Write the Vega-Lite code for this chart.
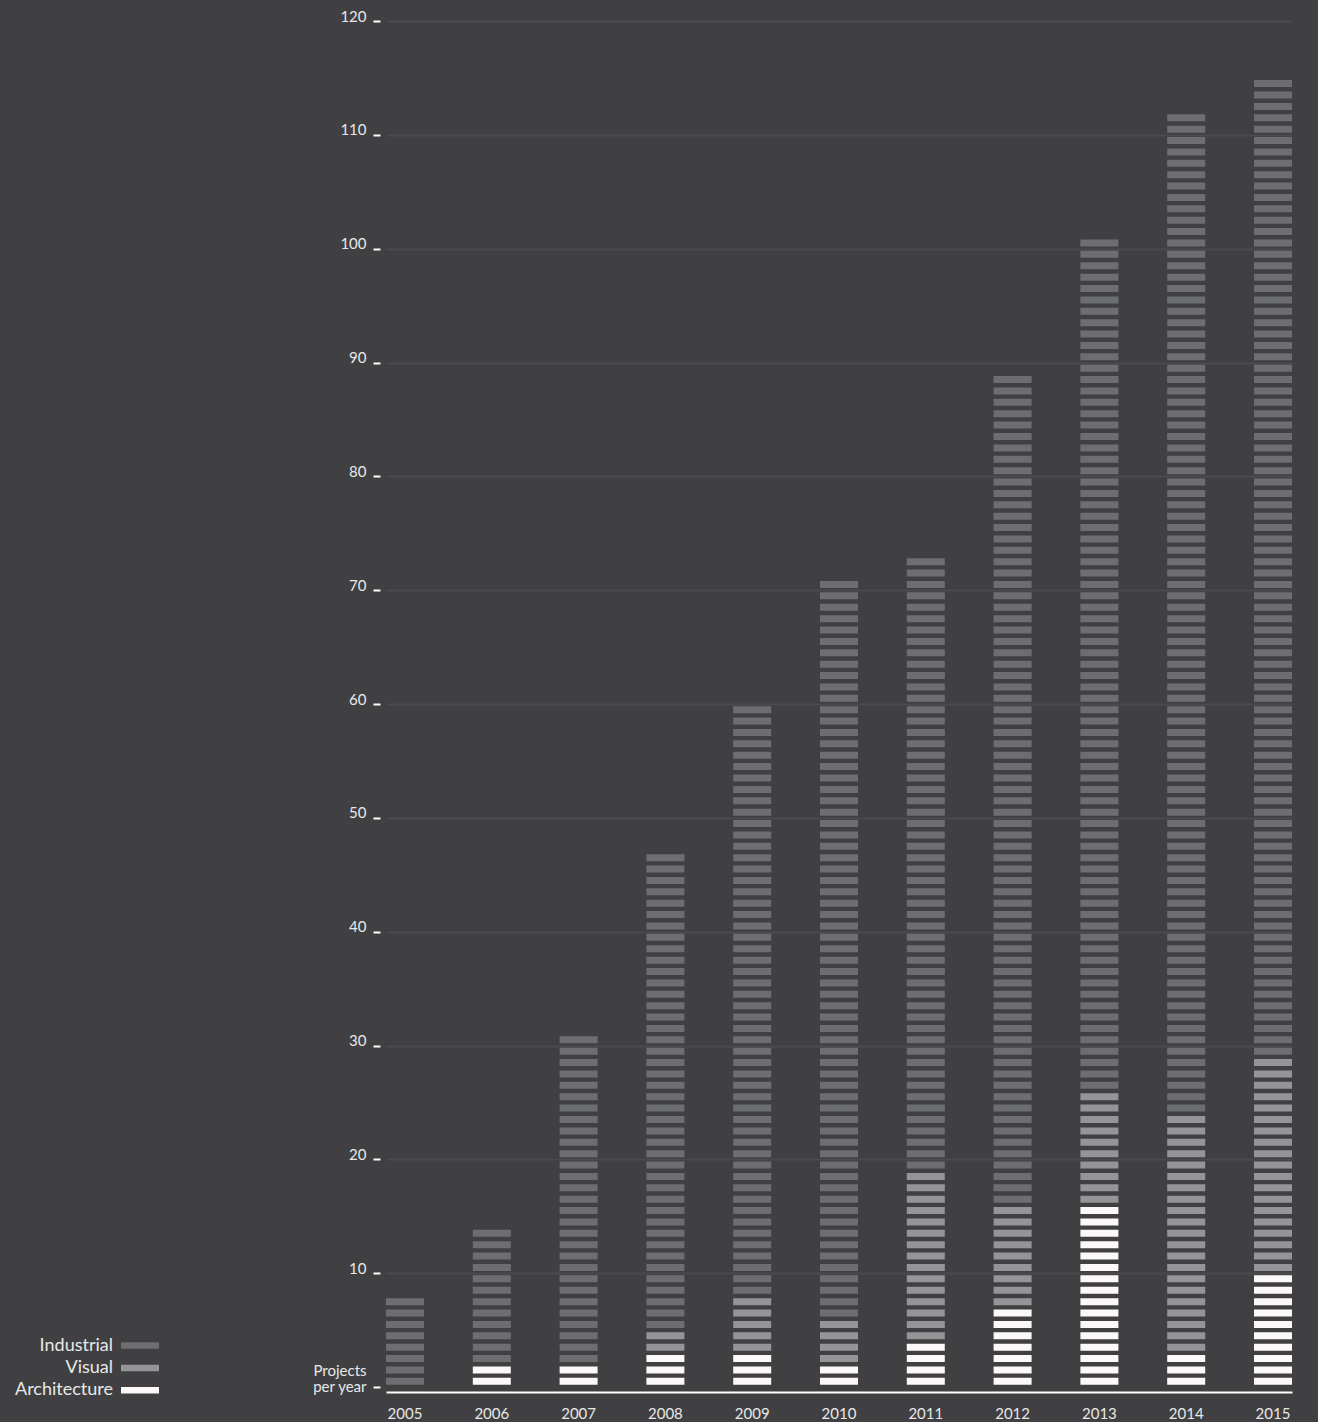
{
"$schema":"https://vega.github.io/schema/vega-lite/v6.json",
"width":906,"height":1366,
"autosize":{"type":"none"},
"padding":{"left":386,"top":21,"right":26,"bottom":35},
"background":"#404042",
"config":{"view":{"stroke":null},"font":"Lato"},
"data":{"values":[
{"year":2005,"type":"I","n":1},{"year":2005,"type":"I","n":2},{"year":2005,"type":"I","n":3},{"year":2005,"type":"I","n":4},{"year":2005,"type":"I","n":5},{"year":2005,"type":"I","n":6},{"year":2005,"type":"I","n":7},{"year":2005,"type":"I","n":8},
{"year":2006,"type":"A","n":1},{"year":2006,"type":"A","n":2},{"year":2006,"type":"I","n":3},{"year":2006,"type":"I","n":4},{"year":2006,"type":"I","n":5},{"year":2006,"type":"I","n":6},{"year":2006,"type":"I","n":7},{"year":2006,"type":"I","n":8},{"year":2006,"type":"I","n":9},{"year":2006,"type":"I","n":10},{"year":2006,"type":"I","n":11},{"year":2006,"type":"I","n":12},{"year":2006,"type":"I","n":13},{"year":2006,"type":"I","n":14},
{"year":2007,"type":"A","n":1},{"year":2007,"type":"A","n":2},{"year":2007,"type":"I","n":3},{"year":2007,"type":"I","n":4},{"year":2007,"type":"I","n":5},{"year":2007,"type":"I","n":6},{"year":2007,"type":"I","n":7},{"year":2007,"type":"I","n":8},{"year":2007,"type":"I","n":9},{"year":2007,"type":"I","n":10},{"year":2007,"type":"I","n":11},{"year":2007,"type":"I","n":12},{"year":2007,"type":"I","n":13},{"year":2007,"type":"I","n":14},{"year":2007,"type":"I","n":15},{"year":2007,"type":"I","n":16},{"year":2007,"type":"I","n":17},{"year":2007,"type":"I","n":18},{"year":2007,"type":"I","n":19},{"year":2007,"type":"I","n":20},{"year":2007,"type":"I","n":21},{"year":2007,"type":"I","n":22},{"year":2007,"type":"I","n":23},{"year":2007,"type":"I","n":24},{"year":2007,"type":"I","n":25},{"year":2007,"type":"I","n":26},{"year":2007,"type":"I","n":27},{"year":2007,"type":"I","n":28},{"year":2007,"type":"I","n":29},{"year":2007,"type":"I","n":30},{"year":2007,"type":"I","n":31},
{"year":2008,"type":"A","n":1},{"year":2008,"type":"A","n":2},{"year":2008,"type":"A","n":3},{"year":2008,"type":"V","n":4},{"year":2008,"type":"V","n":5},{"year":2008,"type":"I","n":6},{"year":2008,"type":"I","n":7},{"year":2008,"type":"I","n":8},{"year":2008,"type":"I","n":9},{"year":2008,"type":"I","n":10},{"year":2008,"type":"I","n":11},{"year":2008,"type":"I","n":12},{"year":2008,"type":"I","n":13},{"year":2008,"type":"I","n":14},{"year":2008,"type":"I","n":15},{"year":2008,"type":"I","n":16},{"year":2008,"type":"I","n":17},{"year":2008,"type":"I","n":18},{"year":2008,"type":"I","n":19},{"year":2008,"type":"I","n":20},{"year":2008,"type":"I","n":21},{"year":2008,"type":"I","n":22},{"year":2008,"type":"I","n":23},{"year":2008,"type":"I","n":24},{"year":2008,"type":"I","n":25},{"year":2008,"type":"I","n":26},{"year":2008,"type":"I","n":27},{"year":2008,"type":"I","n":28},{"year":2008,"type":"I","n":29},{"year":2008,"type":"I","n":30},{"year":2008,"type":"I","n":31},{"year":2008,"type":"I","n":32},{"year":2008,"type":"I","n":33},{"year":2008,"type":"I","n":34},{"year":2008,"type":"I","n":35},{"year":2008,"type":"I","n":36},{"year":2008,"type":"I","n":37},{"year":2008,"type":"I","n":38},{"year":2008,"type":"I","n":39},{"year":2008,"type":"I","n":40},{"year":2008,"type":"I","n":41},{"year":2008,"type":"I","n":42},{"year":2008,"type":"I","n":43},{"year":2008,"type":"I","n":44},{"year":2008,"type":"I","n":45},{"year":2008,"type":"I","n":46},{"year":2008,"type":"I","n":47},
{"year":2009,"type":"A","n":1},{"year":2009,"type":"A","n":2},{"year":2009,"type":"A","n":3},{"year":2009,"type":"V","n":4},{"year":2009,"type":"V","n":5},{"year":2009,"type":"V","n":6},{"year":2009,"type":"V","n":7},{"year":2009,"type":"V","n":8},{"year":2009,"type":"I","n":9},{"year":2009,"type":"I","n":10},{"year":2009,"type":"I","n":11},{"year":2009,"type":"I","n":12},{"year":2009,"type":"I","n":13},{"year":2009,"type":"I","n":14},{"year":2009,"type":"I","n":15},{"year":2009,"type":"I","n":16},{"year":2009,"type":"I","n":17},{"year":2009,"type":"I","n":18},{"year":2009,"type":"I","n":19},{"year":2009,"type":"I","n":20},{"year":2009,"type":"I","n":21},{"year":2009,"type":"I","n":22},{"year":2009,"type":"I","n":23},{"year":2009,"type":"I","n":24},{"year":2009,"type":"I","n":25},{"year":2009,"type":"I","n":26},{"year":2009,"type":"I","n":27},{"year":2009,"type":"I","n":28},{"year":2009,"type":"I","n":29},{"year":2009,"type":"I","n":30},{"year":2009,"type":"I","n":31},{"year":2009,"type":"I","n":32},{"year":2009,"type":"I","n":33},{"year":2009,"type":"I","n":34},{"year":2009,"type":"I","n":35},{"year":2009,"type":"I","n":36},{"year":2009,"type":"I","n":37},{"year":2009,"type":"I","n":38},{"year":2009,"type":"I","n":39},{"year":2009,"type":"I","n":40},{"year":2009,"type":"I","n":41},{"year":2009,"type":"I","n":42},{"year":2009,"type":"I","n":43},{"year":2009,"type":"I","n":44},{"year":2009,"type":"I","n":45},{"year":2009,"type":"I","n":46},{"year":2009,"type":"I","n":47},{"year":2009,"type":"I","n":48},{"year":2009,"type":"I","n":49},{"year":2009,"type":"I","n":50},{"year":2009,"type":"I","n":51},{"year":2009,"type":"I","n":52},{"year":2009,"type":"I","n":53},{"year":2009,"type":"I","n":54},{"year":2009,"type":"I","n":55},{"year":2009,"type":"I","n":56},{"year":2009,"type":"I","n":57},{"year":2009,"type":"I","n":58},{"year":2009,"type":"I","n":59},{"year":2009,"type":"I","n":60},
{"year":2010,"type":"A","n":1},{"year":2010,"type":"A","n":2},{"year":2010,"type":"V","n":3},{"year":2010,"type":"V","n":4},{"year":2010,"type":"V","n":5},{"year":2010,"type":"V","n":6},{"year":2010,"type":"I","n":7},{"year":2010,"type":"I","n":8},{"year":2010,"type":"I","n":9},{"year":2010,"type":"I","n":10},{"year":2010,"type":"I","n":11},{"year":2010,"type":"I","n":12},{"year":2010,"type":"I","n":13},{"year":2010,"type":"I","n":14},{"year":2010,"type":"I","n":15},{"year":2010,"type":"I","n":16},{"year":2010,"type":"I","n":17},{"year":2010,"type":"I","n":18},{"year":2010,"type":"I","n":19},{"year":2010,"type":"I","n":20},{"year":2010,"type":"I","n":21},{"year":2010,"type":"I","n":22},{"year":2010,"type":"I","n":23},{"year":2010,"type":"I","n":24},{"year":2010,"type":"I","n":25},{"year":2010,"type":"I","n":26},{"year":2010,"type":"I","n":27},{"year":2010,"type":"I","n":28},{"year":2010,"type":"I","n":29},{"year":2010,"type":"I","n":30},{"year":2010,"type":"I","n":31},{"year":2010,"type":"I","n":32},{"year":2010,"type":"I","n":33},{"year":2010,"type":"I","n":34},{"year":2010,"type":"I","n":35},{"year":2010,"type":"I","n":36},{"year":2010,"type":"I","n":37},{"year":2010,"type":"I","n":38},{"year":2010,"type":"I","n":39},{"year":2010,"type":"I","n":40},{"year":2010,"type":"I","n":41},{"year":2010,"type":"I","n":42},{"year":2010,"type":"I","n":43},{"year":2010,"type":"I","n":44},{"year":2010,"type":"I","n":45},{"year":2010,"type":"I","n":46},{"year":2010,"type":"I","n":47},{"year":2010,"type":"I","n":48},{"year":2010,"type":"I","n":49},{"year":2010,"type":"I","n":50},{"year":2010,"type":"I","n":51},{"year":2010,"type":"I","n":52},{"year":2010,"type":"I","n":53},{"year":2010,"type":"I","n":54},{"year":2010,"type":"I","n":55},{"year":2010,"type":"I","n":56},{"year":2010,"type":"I","n":57},{"year":2010,"type":"I","n":58},{"year":2010,"type":"I","n":59},{"year":2010,"type":"I","n":60},{"year":2010,"type":"I","n":61},{"year":2010,"type":"I","n":62},{"year":2010,"type":"I","n":63},{"year":2010,"type":"I","n":64},{"year":2010,"type":"I","n":65},{"year":2010,"type":"I","n":66},{"year":2010,"type":"I","n":67},{"year":2010,"type":"I","n":68},{"year":2010,"type":"I","n":69},{"year":2010,"type":"I","n":70},{"year":2010,"type":"I","n":71},
{"year":2011,"type":"A","n":1},{"year":2011,"type":"A","n":2},{"year":2011,"type":"A","n":3},{"year":2011,"type":"A","n":4},{"year":2011,"type":"V","n":5},{"year":2011,"type":"V","n":6},{"year":2011,"type":"V","n":7},{"year":2011,"type":"V","n":8},{"year":2011,"type":"V","n":9},{"year":2011,"type":"V","n":10},{"year":2011,"type":"V","n":11},{"year":2011,"type":"V","n":12},{"year":2011,"type":"V","n":13},{"year":2011,"type":"V","n":14},{"year":2011,"type":"V","n":15},{"year":2011,"type":"V","n":16},{"year":2011,"type":"V","n":17},{"year":2011,"type":"V","n":18},{"year":2011,"type":"V","n":19},{"year":2011,"type":"I","n":20},{"year":2011,"type":"I","n":21},{"year":2011,"type":"I","n":22},{"year":2011,"type":"I","n":23},{"year":2011,"type":"I","n":24},{"year":2011,"type":"I","n":25},{"year":2011,"type":"I","n":26},{"year":2011,"type":"I","n":27},{"year":2011,"type":"I","n":28},{"year":2011,"type":"I","n":29},{"year":2011,"type":"I","n":30},{"year":2011,"type":"I","n":31},{"year":2011,"type":"I","n":32},{"year":2011,"type":"I","n":33},{"year":2011,"type":"I","n":34},{"year":2011,"type":"I","n":35},{"year":2011,"type":"I","n":36},{"year":2011,"type":"I","n":37},{"year":2011,"type":"I","n":38},{"year":2011,"type":"I","n":39},{"year":2011,"type":"I","n":40},{"year":2011,"type":"I","n":41},{"year":2011,"type":"I","n":42},{"year":2011,"type":"I","n":43},{"year":2011,"type":"I","n":44},{"year":2011,"type":"I","n":45},{"year":2011,"type":"I","n":46},{"year":2011,"type":"I","n":47},{"year":2011,"type":"I","n":48},{"year":2011,"type":"I","n":49},{"year":2011,"type":"I","n":50},{"year":2011,"type":"I","n":51},{"year":2011,"type":"I","n":52},{"year":2011,"type":"I","n":53},{"year":2011,"type":"I","n":54},{"year":2011,"type":"I","n":55},{"year":2011,"type":"I","n":56},{"year":2011,"type":"I","n":57},{"year":2011,"type":"I","n":58},{"year":2011,"type":"I","n":59},{"year":2011,"type":"I","n":60},{"year":2011,"type":"I","n":61},{"year":2011,"type":"I","n":62},{"year":2011,"type":"I","n":63},{"year":2011,"type":"I","n":64},{"year":2011,"type":"I","n":65},{"year":2011,"type":"I","n":66},{"year":2011,"type":"I","n":67},{"year":2011,"type":"I","n":68},{"year":2011,"type":"I","n":69},{"year":2011,"type":"I","n":70},{"year":2011,"type":"I","n":71},{"year":2011,"type":"I","n":72},{"year":2011,"type":"I","n":73},
{"year":2012,"type":"A","n":1},{"year":2012,"type":"A","n":2},{"year":2012,"type":"A","n":3},{"year":2012,"type":"A","n":4},{"year":2012,"type":"A","n":5},{"year":2012,"type":"A","n":6},{"year":2012,"type":"A","n":7},{"year":2012,"type":"V","n":8},{"year":2012,"type":"V","n":9},{"year":2012,"type":"V","n":10},{"year":2012,"type":"V","n":11},{"year":2012,"type":"V","n":12},{"year":2012,"type":"V","n":13},{"year":2012,"type":"V","n":14},{"year":2012,"type":"V","n":15},{"year":2012,"type":"V","n":16},{"year":2012,"type":"I","n":17},{"year":2012,"type":"I","n":18},{"year":2012,"type":"I","n":19},{"year":2012,"type":"I","n":20},{"year":2012,"type":"I","n":21},{"year":2012,"type":"I","n":22},{"year":2012,"type":"I","n":23},{"year":2012,"type":"I","n":24},{"year":2012,"type":"I","n":25},{"year":2012,"type":"I","n":26},{"year":2012,"type":"I","n":27},{"year":2012,"type":"I","n":28},{"year":2012,"type":"I","n":29},{"year":2012,"type":"I","n":30},{"year":2012,"type":"I","n":31},{"year":2012,"type":"I","n":32},{"year":2012,"type":"I","n":33},{"year":2012,"type":"I","n":34},{"year":2012,"type":"I","n":35},{"year":2012,"type":"I","n":36},{"year":2012,"type":"I","n":37},{"year":2012,"type":"I","n":38},{"year":2012,"type":"I","n":39},{"year":2012,"type":"I","n":40},{"year":2012,"type":"I","n":41},{"year":2012,"type":"I","n":42},{"year":2012,"type":"I","n":43},{"year":2012,"type":"I","n":44},{"year":2012,"type":"I","n":45},{"year":2012,"type":"I","n":46},{"year":2012,"type":"I","n":47},{"year":2012,"type":"I","n":48},{"year":2012,"type":"I","n":49},{"year":2012,"type":"I","n":50},{"year":2012,"type":"I","n":51},{"year":2012,"type":"I","n":52},{"year":2012,"type":"I","n":53},{"year":2012,"type":"I","n":54},{"year":2012,"type":"I","n":55},{"year":2012,"type":"I","n":56},{"year":2012,"type":"I","n":57},{"year":2012,"type":"I","n":58},{"year":2012,"type":"I","n":59},{"year":2012,"type":"I","n":60},{"year":2012,"type":"I","n":61},{"year":2012,"type":"I","n":62},{"year":2012,"type":"I","n":63},{"year":2012,"type":"I","n":64},{"year":2012,"type":"I","n":65},{"year":2012,"type":"I","n":66},{"year":2012,"type":"I","n":67},{"year":2012,"type":"I","n":68},{"year":2012,"type":"I","n":69},{"year":2012,"type":"I","n":70},{"year":2012,"type":"I","n":71},{"year":2012,"type":"I","n":72},{"year":2012,"type":"I","n":73},{"year":2012,"type":"I","n":74},{"year":2012,"type":"I","n":75},{"year":2012,"type":"I","n":76},{"year":2012,"type":"I","n":77},{"year":2012,"type":"I","n":78},{"year":2012,"type":"I","n":79},{"year":2012,"type":"I","n":80},{"year":2012,"type":"I","n":81},{"year":2012,"type":"I","n":82},{"year":2012,"type":"I","n":83},{"year":2012,"type":"I","n":84},{"year":2012,"type":"I","n":85},{"year":2012,"type":"I","n":86},{"year":2012,"type":"I","n":87},{"year":2012,"type":"I","n":88},{"year":2012,"type":"I","n":89},
{"year":2013,"type":"A","n":1},{"year":2013,"type":"A","n":2},{"year":2013,"type":"A","n":3},{"year":2013,"type":"A","n":4},{"year":2013,"type":"A","n":5},{"year":2013,"type":"A","n":6},{"year":2013,"type":"A","n":7},{"year":2013,"type":"A","n":8},{"year":2013,"type":"A","n":9},{"year":2013,"type":"A","n":10},{"year":2013,"type":"A","n":11},{"year":2013,"type":"A","n":12},{"year":2013,"type":"A","n":13},{"year":2013,"type":"A","n":14},{"year":2013,"type":"A","n":15},{"year":2013,"type":"A","n":16},{"year":2013,"type":"V","n":17},{"year":2013,"type":"V","n":18},{"year":2013,"type":"V","n":19},{"year":2013,"type":"V","n":20},{"year":2013,"type":"V","n":21},{"year":2013,"type":"V","n":22},{"year":2013,"type":"V","n":23},{"year":2013,"type":"V","n":24},{"year":2013,"type":"V","n":25},{"year":2013,"type":"V","n":26},{"year":2013,"type":"I","n":27},{"year":2013,"type":"I","n":28},{"year":2013,"type":"I","n":29},{"year":2013,"type":"I","n":30},{"year":2013,"type":"I","n":31},{"year":2013,"type":"I","n":32},{"year":2013,"type":"I","n":33},{"year":2013,"type":"I","n":34},{"year":2013,"type":"I","n":35},{"year":2013,"type":"I","n":36},{"year":2013,"type":"I","n":37},{"year":2013,"type":"I","n":38},{"year":2013,"type":"I","n":39},{"year":2013,"type":"I","n":40},{"year":2013,"type":"I","n":41},{"year":2013,"type":"I","n":42},{"year":2013,"type":"I","n":43},{"year":2013,"type":"I","n":44},{"year":2013,"type":"I","n":45},{"year":2013,"type":"I","n":46},{"year":2013,"type":"I","n":47},{"year":2013,"type":"I","n":48},{"year":2013,"type":"I","n":49},{"year":2013,"type":"I","n":50},{"year":2013,"type":"I","n":51},{"year":2013,"type":"I","n":52},{"year":2013,"type":"I","n":53},{"year":2013,"type":"I","n":54},{"year":2013,"type":"I","n":55},{"year":2013,"type":"I","n":56},{"year":2013,"type":"I","n":57},{"year":2013,"type":"I","n":58},{"year":2013,"type":"I","n":59},{"year":2013,"type":"I","n":60},{"year":2013,"type":"I","n":61},{"year":2013,"type":"I","n":62},{"year":2013,"type":"I","n":63},{"year":2013,"type":"I","n":64},{"year":2013,"type":"I","n":65},{"year":2013,"type":"I","n":66},{"year":2013,"type":"I","n":67},{"year":2013,"type":"I","n":68},{"year":2013,"type":"I","n":69},{"year":2013,"type":"I","n":70},{"year":2013,"type":"I","n":71},{"year":2013,"type":"I","n":72},{"year":2013,"type":"I","n":73},{"year":2013,"type":"I","n":74},{"year":2013,"type":"I","n":75},{"year":2013,"type":"I","n":76},{"year":2013,"type":"I","n":77},{"year":2013,"type":"I","n":78},{"year":2013,"type":"I","n":79},{"year":2013,"type":"I","n":80},{"year":2013,"type":"I","n":81},{"year":2013,"type":"I","n":82},{"year":2013,"type":"I","n":83},{"year":2013,"type":"I","n":84},{"year":2013,"type":"I","n":85},{"year":2013,"type":"I","n":86},{"year":2013,"type":"I","n":87},{"year":2013,"type":"I","n":88},{"year":2013,"type":"I","n":89},{"year":2013,"type":"I","n":90},{"year":2013,"type":"I","n":91},{"year":2013,"type":"I","n":92},{"year":2013,"type":"I","n":93},{"year":2013,"type":"I","n":94},{"year":2013,"type":"I","n":95},{"year":2013,"type":"I","n":96},{"year":2013,"type":"I","n":97},{"year":2013,"type":"I","n":98},{"year":2013,"type":"I","n":99},{"year":2013,"type":"I","n":100},{"year":2013,"type":"I","n":101},
{"year":2014,"type":"A","n":1},{"year":2014,"type":"A","n":2},{"year":2014,"type":"A","n":3},{"year":2014,"type":"V","n":4},{"year":2014,"type":"V","n":5},{"year":2014,"type":"V","n":6},{"year":2014,"type":"V","n":7},{"year":2014,"type":"V","n":8},{"year":2014,"type":"V","n":9},{"year":2014,"type":"V","n":10},{"year":2014,"type":"V","n":11},{"year":2014,"type":"V","n":12},{"year":2014,"type":"V","n":13},{"year":2014,"type":"V","n":14},{"year":2014,"type":"V","n":15},{"year":2014,"type":"V","n":16},{"year":2014,"type":"V","n":17},{"year":2014,"type":"V","n":18},{"year":2014,"type":"V","n":19},{"year":2014,"type":"V","n":20},{"year":2014,"type":"V","n":21},{"year":2014,"type":"V","n":22},{"year":2014,"type":"V","n":23},{"year":2014,"type":"V","n":24},{"year":2014,"type":"I","n":25},{"year":2014,"type":"I","n":26},{"year":2014,"type":"I","n":27},{"year":2014,"type":"I","n":28},{"year":2014,"type":"I","n":29},{"year":2014,"type":"I","n":30},{"year":2014,"type":"I","n":31},{"year":2014,"type":"I","n":32},{"year":2014,"type":"I","n":33},{"year":2014,"type":"I","n":34},{"year":2014,"type":"I","n":35},{"year":2014,"type":"I","n":36},{"year":2014,"type":"I","n":37},{"year":2014,"type":"I","n":38},{"year":2014,"type":"I","n":39},{"year":2014,"type":"I","n":40},{"year":2014,"type":"I","n":41},{"year":2014,"type":"I","n":42},{"year":2014,"type":"I","n":43},{"year":2014,"type":"I","n":44},{"year":2014,"type":"I","n":45},{"year":2014,"type":"I","n":46},{"year":2014,"type":"I","n":47},{"year":2014,"type":"I","n":48},{"year":2014,"type":"I","n":49},{"year":2014,"type":"I","n":50},{"year":2014,"type":"I","n":51},{"year":2014,"type":"I","n":52},{"year":2014,"type":"I","n":53},{"year":2014,"type":"I","n":54},{"year":2014,"type":"I","n":55},{"year":2014,"type":"I","n":56},{"year":2014,"type":"I","n":57},{"year":2014,"type":"I","n":58},{"year":2014,"type":"I","n":59},{"year":2014,"type":"I","n":60},{"year":2014,"type":"I","n":61},{"year":2014,"type":"I","n":62},{"year":2014,"type":"I","n":63},{"year":2014,"type":"I","n":64},{"year":2014,"type":"I","n":65},{"year":2014,"type":"I","n":66},{"year":2014,"type":"I","n":67},{"year":2014,"type":"I","n":68},{"year":2014,"type":"I","n":69},{"year":2014,"type":"I","n":70},{"year":2014,"type":"I","n":71},{"year":2014,"type":"I","n":72},{"year":2014,"type":"I","n":73},{"year":2014,"type":"I","n":74},{"year":2014,"type":"I","n":75},{"year":2014,"type":"I","n":76},{"year":2014,"type":"I","n":77},{"year":2014,"type":"I","n":78},{"year":2014,"type":"I","n":79},{"year":2014,"type":"I","n":80},{"year":2014,"type":"I","n":81},{"year":2014,"type":"I","n":82},{"year":2014,"type":"I","n":83},{"year":2014,"type":"I","n":84},{"year":2014,"type":"I","n":85},{"year":2014,"type":"I","n":86},{"year":2014,"type":"I","n":87},{"year":2014,"type":"I","n":88},{"year":2014,"type":"I","n":89},{"year":2014,"type":"I","n":90},{"year":2014,"type":"I","n":91},{"year":2014,"type":"I","n":92},{"year":2014,"type":"I","n":93},{"year":2014,"type":"I","n":94},{"year":2014,"type":"I","n":95},{"year":2014,"type":"I","n":96},{"year":2014,"type":"I","n":97},{"year":2014,"type":"I","n":98},{"year":2014,"type":"I","n":99},{"year":2014,"type":"I","n":100},{"year":2014,"type":"I","n":101},{"year":2014,"type":"I","n":102},{"year":2014,"type":"I","n":103},{"year":2014,"type":"I","n":104},{"year":2014,"type":"I","n":105},{"year":2014,"type":"I","n":106},{"year":2014,"type":"I","n":107},{"year":2014,"type":"I","n":108},{"year":2014,"type":"I","n":109},{"year":2014,"type":"I","n":110},{"year":2014,"type":"I","n":111},{"year":2014,"type":"I","n":112},
{"year":2015,"type":"A","n":1},{"year":2015,"type":"A","n":2},{"year":2015,"type":"A","n":3},{"year":2015,"type":"A","n":4},{"year":2015,"type":"A","n":5},{"year":2015,"type":"A","n":6},{"year":2015,"type":"A","n":7},{"year":2015,"type":"A","n":8},{"year":2015,"type":"A","n":9},{"year":2015,"type":"A","n":10},{"year":2015,"type":"V","n":11},{"year":2015,"type":"V","n":12},{"year":2015,"type":"V","n":13},{"year":2015,"type":"V","n":14},{"year":2015,"type":"V","n":15},{"year":2015,"type":"V","n":16},{"year":2015,"type":"V","n":17},{"year":2015,"type":"V","n":18},{"year":2015,"type":"V","n":19},{"year":2015,"type":"V","n":20},{"year":2015,"type":"V","n":21},{"year":2015,"type":"V","n":22},{"year":2015,"type":"V","n":23},{"year":2015,"type":"V","n":24},{"year":2015,"type":"V","n":25},{"year":2015,"type":"V","n":26},{"year":2015,"type":"V","n":27},{"year":2015,"type":"V","n":28},{"year":2015,"type":"V","n":29},{"year":2015,"type":"I","n":30},{"year":2015,"type":"I","n":31},{"year":2015,"type":"I","n":32},{"year":2015,"type":"I","n":33},{"year":2015,"type":"I","n":34},{"year":2015,"type":"I","n":35},{"year":2015,"type":"I","n":36},{"year":2015,"type":"I","n":37},{"year":2015,"type":"I","n":38},{"year":2015,"type":"I","n":39},{"year":2015,"type":"I","n":40},{"year":2015,"type":"I","n":41},{"year":2015,"type":"I","n":42},{"year":2015,"type":"I","n":43},{"year":2015,"type":"I","n":44},{"year":2015,"type":"I","n":45},{"year":2015,"type":"I","n":46},{"year":2015,"type":"I","n":47},{"year":2015,"type":"I","n":48},{"year":2015,"type":"I","n":49},{"year":2015,"type":"I","n":50},{"year":2015,"type":"I","n":51},{"year":2015,"type":"I","n":52},{"year":2015,"type":"I","n":53},{"year":2015,"type":"I","n":54},{"year":2015,"type":"I","n":55},{"year":2015,"type":"I","n":56},{"year":2015,"type":"I","n":57},{"year":2015,"type":"I","n":58},{"year":2015,"type":"I","n":59},{"year":2015,"type":"I","n":60},{"year":2015,"type":"I","n":61},{"year":2015,"type":"I","n":62},{"year":2015,"type":"I","n":63},{"year":2015,"type":"I","n":64},{"year":2015,"type":"I","n":65},{"year":2015,"type":"I","n":66},{"year":2015,"type":"I","n":67},{"year":2015,"type":"I","n":68},{"year":2015,"type":"I","n":69},{"year":2015,"type":"I","n":70},{"year":2015,"type":"I","n":71},{"year":2015,"type":"I","n":72},{"year":2015,"type":"I","n":73},{"year":2015,"type":"I","n":74},{"year":2015,"type":"I","n":75},{"year":2015,"type":"I","n":76},{"year":2015,"type":"I","n":77},{"year":2015,"type":"I","n":78},{"year":2015,"type":"I","n":79},{"year":2015,"type":"I","n":80},{"year":2015,"type":"I","n":81},{"year":2015,"type":"I","n":82},{"year":2015,"type":"I","n":83},{"year":2015,"type":"I","n":84},{"year":2015,"type":"I","n":85},{"year":2015,"type":"I","n":86},{"year":2015,"type":"I","n":87},{"year":2015,"type":"I","n":88},{"year":2015,"type":"I","n":89},{"year":2015,"type":"I","n":90},{"year":2015,"type":"I","n":91},{"year":2015,"type":"I","n":92},{"year":2015,"type":"I","n":93},{"year":2015,"type":"I","n":94},{"year":2015,"type":"I","n":95},{"year":2015,"type":"I","n":96},{"year":2015,"type":"I","n":97},{"year":2015,"type":"I","n":98},{"year":2015,"type":"I","n":99},{"year":2015,"type":"I","n":100},{"year":2015,"type":"I","n":101},{"year":2015,"type":"I","n":102},{"year":2015,"type":"I","n":103},{"year":2015,"type":"I","n":104},{"year":2015,"type":"I","n":105},{"year":2015,"type":"I","n":106},{"year":2015,"type":"I","n":107},{"year":2015,"type":"I","n":108},{"year":2015,"type":"I","n":109},{"year":2015,"type":"I","n":110},{"year":2015,"type":"I","n":111},{"year":2015,"type":"I","n":112},{"year":2015,"type":"I","n":113},{"year":2015,"type":"I","n":114},{"year":2015,"type":"I","n":115}
]},
"mark":{"type":"tick","orient":"horizontal","thickness":7,"size":38,"yOffset":5.7,"opacity":1},
"encoding":{
"x":{"field":"year","type":"ordinal","scale":{"paddingInner":0.5622,"paddingOuter":0},
 "axis":{"title":null,"labelAngle":0,"ticks":false,"tickSize":0,"offset":5,"domainColor":"#ffffff","domainWidth":2,"labelColor":"#e8e8e8","labelFontSize":15,"labelFont":"Lato","labelPadding":14,"labelBaseline":"top","grid":false}},
"y":{"field":"n","type":"quantitative","scale":{"domain":[0,120],"nice":false,"zero":true},
 "axis":{"values":[0,10,20,30,40,50,60,70,80,90,100,110,120],"labelExpr":"datum.value == 0 ? '' : datum.label","offset":6,"domain":false,"tickSize":7,"tickWidth":2,"tickColor":"#ffffff","labelPadding":7,"labelBaseline":"alphabetic","labelFontSize":15,"labelFont":"Lato","labelColor":"#e8e8e8","grid":true,"gridColor":"#4b4b4d","gridWidth":2,"gridOpacity":{"condition":{"test":"datum.value == 0","value":0},"value":1},
 "title":["Projects","per year"],"titleAngle":0,"titleAlign":"right","titleBaseline":"alphabetic","titleX":-14,"titleY":1354,"titleFontSize":15,"titleFont":"Lato","titleFontWeight":"normal","titleColor":"#e8e8e8","titleLineHeight":16}},
"color":{"field":"type","type":"nominal","scale":{"domain":["I","V","A"],"range":["#6d6e70","#959597","#fdf8f8"]},
 "legend":{"title":null,"orient":"none","legendX":-255.5,"legendY":1315,"direction":"vertical","symbolType":"M-2,-0.34H2V0.34H-2Z","symbolSize":361,"symbolStrokeWidth":0,"symbolOpacity":1,"labelAlign":"right","labelOffset":-36.5,"labelFontSize":18,"labelFont":"Lato","labelColor":"#e8e8e8","labelLimit":300,"rowPadding":3.4,"padding":0,"labelExpr":"{'I':'Industrial','V':'Visual','A':'Architecture'}[datum.value]"}}
}
}
